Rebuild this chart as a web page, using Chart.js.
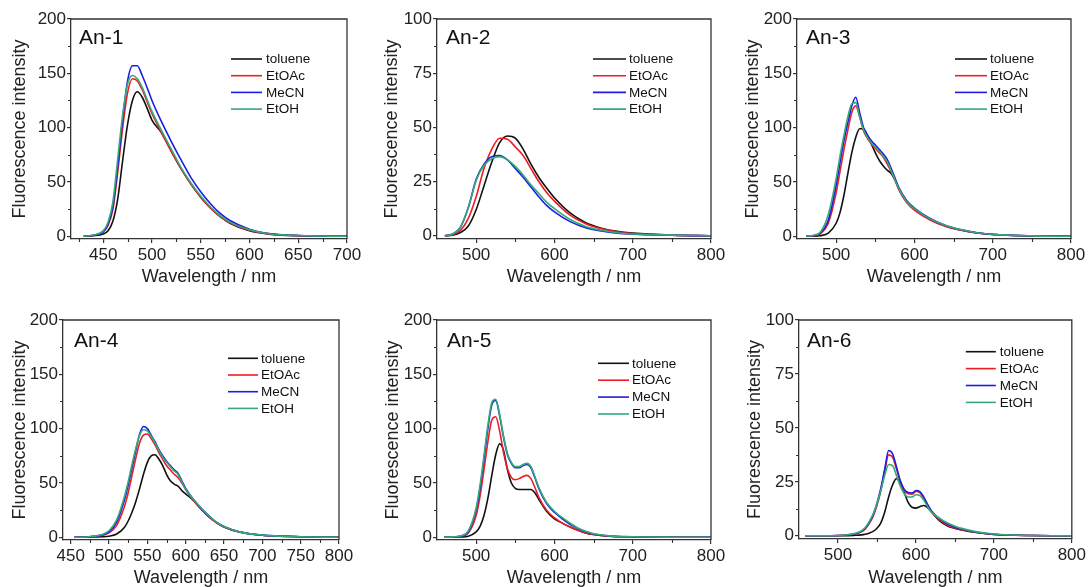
<!DOCTYPE html>
<html><head><meta charset="utf-8">
<script src="https://cdn.jsdelivr.net/npm/chart.js@4.4.1/dist/chart.umd.min.js"></script>
<style>
html,body{margin:0;padding:0;background:#fff;}
body{width:1088px;height:587px;position:relative;overflow:hidden;}
canvas{position:absolute;}
</style></head><body>
<canvas id="c1"></canvas><canvas id="c2"></canvas><canvas id="c3"></canvas>
<canvas id="c4"></canvas><canvas id="c5"></canvas><canvas id="c6"></canvas>
<script>
// ---------- shared ----------
const seriesNames = ['toluene', 'EtOAc', 'MeCN', 'EtOH'];
const xTitle = 'Wavelength / nm';
const yTitle = 'Fluorescence intensity';

// ---------- An-1 ----------
const an1Wavelength = [430,440,450,455,460,465,470,475,480,485,490,495,500,510,520,530,540,550,560,570,580,600,620,650,700];
const an1Toluene = [0,0.5,2,5,14,35,70,103,125,133,128,118,107,95,78,62,48,36,26,18,12,5,2,0.5,0];
const an1EtOAc   = [0,1,4,10,25,60,100,132,145,143,135,124,113,95,78,62,48,36,26,18,12.5,5.5,2.2,0.6,0];
const an1MeCN    = [0,1,4,11,28,65,108,143,157,157,148,137,125,105,87,70,54,41,30,21,14.5,6.5,2.5,0.7,0];
const an1EtOH    = [0,1.2,5,13,32,72,112,140,148,145,137,126,115,97,80,63,49,37,27,19,13,6,2.3,0.7,0];
const an1XTicks = [450,500,550,600,650,700];
const an1YTicks = [0,50,100,150,200];

// ---------- An-2 ----------
const an2Wavelength = [460,470,480,490,500,510,520,530,540,550,560,570,580,590,600,620,640,660,680,700,750,800];
const an2Toluene = [0,0.3,1.5,4.5,12,23,34,43,46,45,40,33,27,22,17.5,10.5,6,3.5,2,1.2,0.3,0];
const an2EtOAc   = [0,0.5,2.5,8,18,31,40,45,44.5,41,37,31,25,20,16,9.5,5.5,3.2,1.8,1,0.3,0];
const an2MeCN    = [0,0.8,4,13,26,33,36.5,37,35,31,27,22.5,18,14,11,6.5,3.7,2.2,1.2,0.7,0.2,0];
const an2EtOH    = [0,0.8,4,13,25.5,32.5,35.5,36.5,35,32,28,23.5,19.5,15.5,12.5,7.5,4.3,2.5,1.4,0.8,0.3,0];
const an2XTicks = [500,600,700,800];
const an2YTicks = [0,25,50,75,100];

// ---------- An-3 ----------
const an3Wavelength = [462,470,480,490,500,505,510,515,520,525,530,535,540,545,550,555,560,565,570,575,580,590,600,620,640,660,680,700,750,800];
const an3Toluene = [0,0.1,0.6,3,12,22,38,58,77,91,99,99,93,85,77,70,65,61,58,52,44,32,25,15.5,9.5,5.5,3,1.6,0.4,0];
const an3EtOAc   = [0,0.4,2.5,12,40,60,80,98,114,120,110,97,90,85,81,77,73,67,60,52,43,31,24,15,9,5.5,3,1.6,0.4,0];
const an3MeCN    = [0,0.5,3,15,47,68,88,105,120,128,114,100,93,88,84,80,76,71,63,54,45,33,26,16.5,10,6,3.3,1.8,0.4,0];
const an3EtOH    = [0,0.8,4,20,53,74,93,110,122,123,110,98,91,86,82,78,74,69,61,52,44,32,25.5,16,10,6,3.2,1.8,0.4,0];
const an3XTicks = [500,600,700,800];
const an3YTicks = [0,50,100,150,200];

// ---------- An-4 ----------
const an4Wavelength = [455,470,480,490,500,510,520,525,530,535,540,545,550,555,560,565,570,575,580,585,590,595,600,610,620,630,640,650,670,700,750,800];
const an4Toluene = [0,0.1,0.2,0.5,1,3,9,15,23,33,45,58,69,75,76,72,66,58,52,49,47,43,40,34,26,19,13.5,9.5,4.8,1.9,0.5,0];
const an4EtOAc   = [0,0.2,0.6,1.6,4,11,28,41,57,73,87,94,95,91,85,78,72,66,62,58,55,50,44,34,26,19,13.5,9.5,4.8,1.9,0.5,0];
const an4MeCN    = [0,0.3,0.8,2,5,14,34,48,64,80,95,102,100,94,88,81,75,70,66,62,59,52,45,35,27,20,14,10,5,2,0.5,0];
const an4EtOH    = [0,0.3,0.9,2.3,6,16,37,51,67,82,94,99,98,93,87,80,74,69,65,61,58,51,44,35,27,20,14,10,5,2,0.5,0];
const an4XTicks = [450,500,550,600,650,700,750,800];
const an4YTicks = [0,50,100,150,200];

// ---------- An-5 ----------
const an5Wavelength = [459,470,480,490,500,505,510,515,520,525,530,535,540,545,550,555,560,565,570,575,580,590,600,610,620,630,640,650,670,700,750,800];
const an5Toluene = [0,0.1,0.3,1,5,10,20,36,57,76,86,80,62,50,45,44,44,44,44,41,35,24,17,13,9.5,6.5,4,2.5,1,0.4,0.1,0];
const an5EtOAc   = [0,0.3,0.9,4,20,38,62,88,108,111,98,78,63,55,53,54,56,57,54,46,37,25,18,13,9.5,6.5,4,2.5,1,0.4,0.1,0];
const an5MeCN    = [0,0.3,1,5,25,45,72,100,122,126,112,92,76,68,64,64,66,67,64,55,45,31,23,17,12,8,5,3,1.2,0.4,0.1,0];
const an5EtOH    = [0,0.4,1.2,6,27,48,75,103,124,127,113,93,77,69,65,65,67,68,65,56,46,32,24,18,13,8.5,5.5,3.2,1.3,0.5,0.1,0];
const an5XTicks = [500,600,700,800];
const an5YTicks = [0,50,100,150,200];

// ---------- An-6 ----------
const an6Wavelength = [458,480,500,520,530,535,540,545,550,555,560,565,570,575,580,585,590,595,600,605,610,615,620,630,640,650,660,680,700,750,800];
const an6Toluene = [0,0,0,0.2,0.4,0.7,1.2,2,3.5,6,11,18,23.5,26.5,24.5,20,15.5,13.2,12.8,13.5,14,13,11,7,4.6,3.4,2.6,1.4,0.6,0.1,0];
const an6EtOAc   = [0,0,0.1,0.7,1.8,3.2,5.6,9,14,21,30,37.5,36.5,31,25,21,19.5,19.3,20.5,20,17.5,14,11,7.5,5,3.6,2.7,1.4,0.6,0.1,0];
const an6MeCN    = [0,0,0.1,0.8,2,3.5,6,9.5,15,22,31,39.5,38,32,25.5,21.5,20,19.8,21,20.5,18,14.5,11.5,8,5.5,4,3,1.5,0.7,0.1,0];
const an6EtOH    = [0,0,0.1,0.9,2.2,3.8,6.5,10,15,21,28,33,32.5,28,23,19.5,18,18,19,18.7,16.5,13.5,11,8.2,6,4.4,3.3,1.7,0.8,0.1,0];
const an6XTicks = [500,600,700,800];
const an6YTicks = [0,25,50,75,100];

// ---------- styling ----------
const seriesColors = ['#111111', '#ee1d23', '#1c1ce6', '#33aa77'];
const FONT = '"Liberation Sans", Arial, Helvetica, sans-serif';
const AXIS = '#333333';
Chart.defaults.font.family = FONT;

const decorPlugin = {
  id: 'panelDecor',
  afterDraw(chart, args, o) {
    const {ctx, chartArea: a, scales: {x, y}} = chart;
    ctx.save();
    // top & right frame
    ctx.strokeStyle = AXIS; ctx.lineWidth = 1.3;
    ctx.beginPath();
    ctx.moveTo(a.left, a.top); ctx.lineTo(a.right, a.top); ctx.lineTo(a.right, a.bottom);
    ctx.stroke();
    // minor ticks at mid-points of major ticks
    ctx.lineWidth = 1.1;
    const mids = (vals, lo, hi) => {
      const out = [];
      const step = vals[1] - vals[0];
      const all = [vals[0] - step].concat(vals, [vals[vals.length - 1] + step]);
      for (let i = 0; i < all.length - 1; i++) {
        const m = (all[i] + all[i + 1]) / 2;
        if (m > lo + 1e-6 && m < hi - 1e-6) out.push(m);
      }
      return out;
    };
    ctx.beginPath();
    mids(x.ticks.map(t => t.value), x.min, x.max).forEach(v => {
      const p = Math.round(x.getPixelForValue(v)) + 0.5;
      ctx.moveTo(p, a.bottom); ctx.lineTo(p, a.bottom + 3);
    });
    mids(y.ticks.map(t => t.value), y.min, y.max).forEach(v => {
      const p = Math.round(y.getPixelForValue(v)) + 0.5;
      ctx.moveTo(a.left, p); ctx.lineTo(a.left - 3, p);
    });
    ctx.stroke();
    // panel label
    ctx.fillStyle = '#111';
    ctx.font = '21px ' + FONT;
    ctx.textBaseline = 'alphabetic'; ctx.textAlign = 'left';
    ctx.fillText(o.label, a.left + o.lx, a.top + o.ly);
    // legend
    ctx.font = '13.5px ' + FONT;
    ctx.textBaseline = 'middle';
    chart.data.datasets.forEach((ds, i) => {
      const yy = a.top + o.dy + i * o.rowH;
      const x0 = a.right - o.dx;
      ctx.strokeStyle = ds.borderColor; ctx.lineWidth = 1.6;
      ctx.beginPath(); ctx.moveTo(x0, yy); ctx.lineTo(x0 + o.len, yy); ctx.stroke();
      ctx.fillStyle = '#111';
      ctx.fillText(ds.label, x0 + o.len + o.gap, yy + 0.5);
    });
    ctx.restore();
  }
};

function makePanel(p) {
  const cv = document.getElementById(p.id);
  cv.width = p.cw; cv.height = p.ch;
  cv.style.left = p.cx + 'px'; cv.style.top = p.cy + 'px';
  const yW = p.area.l - p.cx;
  const xH = p.cy + p.ch - p.area.b;
  const datasets = p.series.map((vals, i) => ({
    label: seriesNames[i],
    data: p.wl.map((w, j) => ({x: w, y: vals[j]})),
    borderColor: seriesColors[i],
    borderWidth: 1.6,
    pointRadius: 0,
    fill: false,
    cubicInterpolationMode: 'monotone',
    order: 3 - i
  }));
  const tickFont = {size: 17, family: FONT};
  const titleFont = {size: 18, family: FONT};
  new Chart(cv, {
    type: 'line',
    data: {datasets},
    options: {
      responsive: false, animation: false, events: [],
      layout: {padding: {top: p.area.t - p.cy, right: p.cx + p.cw - p.area.r, left: 0, bottom: 0}},
      plugins: {
        legend: {display: false}, tooltip: {enabled: false},
        panelDecor: p.decor
      },
      scales: {
        x: {
          type: 'linear', min: p.xMin, max: p.xMax,
          afterBuildTicks: s => { s.ticks = p.xTicks.map(v => ({value: v})); },
          afterFit: s => { s.height = xH; },
          ticks: {font: tickFont, color: '#222', padding: 2, maxRotation: 0, autoSkip: false},
          grid: {drawOnChartArea: false, drawTicks: true, tickLength: 4, color: AXIS, lineWidth: 1.2},
          border: {display: true, color: AXIS, width: 1.3},
          title: {display: true, text: xTitle, font: titleFont, color: '#222', padding: {top: 0, bottom: p.xtPad}}
        },
        y: {
          type: 'linear', min: p.yMin, max: p.yMax,
          afterBuildTicks: s => { s.ticks = p.yTicks.map(v => ({value: v})); },
          afterFit: s => { s.width = yW; },
          ticks: {font: tickFont, color: '#222', padding: 1, autoSkip: false},
          grid: {drawOnChartArea: false, drawTicks: true, tickLength: 4, color: AXIS, lineWidth: 1.2},
          border: {display: true, color: AXIS, width: 1.3},
          title: {display: true, text: yTitle, font: titleFont, color: '#222', padding: {top: p.ytPad, bottom: 0}}
        }
      }
    },
    plugins: [decorPlugin]
  });
}

const panels = [
  {id: 'c1', cx: 0, cy: 0, cw: 375, ch: 290, area: {l: 71, t: 19, r: 347, b: 239},
   wl: an1Wavelength, series: [an1Toluene, an1EtOAc, an1MeCN, an1EtOH],
   xMin: 417, xMax: 700, yMin: -2.5, yMax: 200, xTicks: an1XTicks, yTicks: an1YTicks, xtPad: 2.5, ytPad: 9.2,
   decor: {label: 'An-1', lx: 8, ly: 25, dx: 116, len: 31, gap: 4, dy: 40, rowH: 16.7}},
  {id: 'c2', cx: 360, cy: 0, cw: 375, ch: 290, area: {l: 437, t: 19, r: 711, b: 239},
   wl: an2Wavelength, series: [an2Toluene, an2EtOAc, an2MeCN, an2EtOH],
   xMin: 450, xMax: 800, yMin: -1.5, yMax: 100, xTicks: an2XTicks, yTicks: an2YTicks, xtPad: 2.5, ytPad: 20.9,
   decor: {label: 'An-2', lx: 9, ly: 25, dx: 118, len: 33, gap: 3, dy: 40, rowH: 16.7}},
  {id: 'c3', cx: 720, cy: 0, cw: 368, ch: 290, area: {l: 797, t: 19, r: 1071, b: 239},
   wl: an3Wavelength, series: [an3Toluene, an3EtOAc, an3MeCN, an3EtOH],
   xMin: 450, xMax: 800, yMin: -2.5, yMax: 200, xTicks: an3XTicks, yTicks: an3YTicks, xtPad: 2.5, ytPad: 22.2,
   decor: {label: 'An-3', lx: 9, ly: 25, dx: 116, len: 32, gap: 3, dy: 40, rowH: 16.7}},
  {id: 'c4', cx: 0, cy: 295, cw: 375, ch: 292, area: {l: 63, t: 320, r: 339, b: 540},
   wl: an4Wavelength, series: [an4Toluene, an4EtOAc, an4MeCN, an4EtOH],
   xMin: 440, xMax: 800, yMin: -2.5, yMax: 200, xTicks: an4XTicks, yTicks: an4YTicks, xtPad: -1.5, ytPad: 9.2,
   decor: {label: 'An-4', lx: 11, ly: 26.7, dx: 111, len: 30, gap: 3, dy: 38.3, rowH: 16.7}},
  {id: 'c5', cx: 360, cy: 295, cw: 375, ch: 292, area: {l: 437, t: 320, r: 711, b: 540},
   wl: an5Wavelength, series: [an5Toluene, an5EtOAc, an5MeCN, an5EtOH],
   xMin: 450, xMax: 800, yMin: -2.5, yMax: 200, xTicks: an5XTicks, yTicks: an5YTicks, xtPad: -1.5, ytPad: 22.2,
   decor: {label: 'An-5', lx: 10, ly: 26.7, dx: 113, len: 31, gap: 3, dy: 43.3, rowH: 16.9}},
  {id: 'c6', cx: 720, cy: 295, cw: 368, ch: 292, area: {l: 799, t: 320, r: 1072, b: 539},
   wl: an6Wavelength, series: [an6Toluene, an6EtOAc, an6MeCN, an6EtOH],
   xMin: 450, xMax: 800, yMin: -1.5, yMax: 100, xTicks: an6XTicks, yTicks: an6YTicks, xtPad: -1.5, ytPad: 24.2,
   decor: {label: 'An-6', lx: 8, ly: 26.7, dx: 106, len: 30, gap: 4, dy: 31.7, rowH: 16.9}}
];
panels.forEach(makePanel);
</script>
</body></html>
